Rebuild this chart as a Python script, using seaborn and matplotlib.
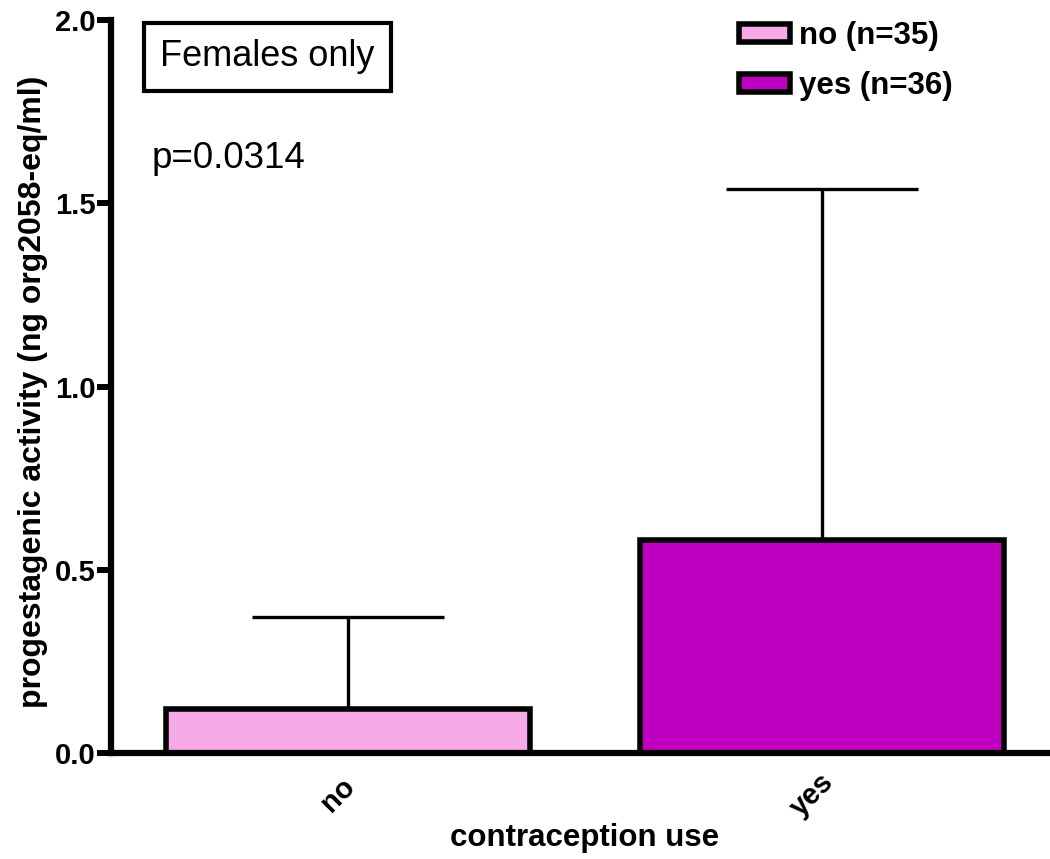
import matplotlib
matplotlib.use("Agg")
import matplotlib.pyplot as plt
import matplotlib.transforms as mtransforms
import seaborn as sns
import pandas as pd
from matplotlib.patches import Patch

categories = ["no", "yes"]
means = [0.12, 0.58]
upper_err = [0.25, 0.96]
legend_labels = ["no (n=35)", "yes (n=36)"]
colors = ["#F5A9E6", "#C000C0"]
yticks = [0.0, 0.5, 1.0, 1.5, 2.0]

sns.set_theme(style="white")
plt.rcParams["font.family"] = ["Liberation Sans", "DejaVu Sans"]
plt.rcParams["text.color"] = "black"
plt.rcParams["axes.labelcolor"] = "black"
plt.rcParams["xtick.color"] = "black"
plt.rcParams["ytick.color"] = "black"

W, H = 1050, 859
fig = plt.figure(figsize=(W/100, H/100), dpi=100)
ax = fig.add_axes([111/W, 1-753/H, 1-111/W, (753-20)/H])

df = pd.DataFrame({"cat": categories, "val": means})
sns.barplot(data=df, x="cat", y="val", hue="cat", palette=colors, width=0.768,
            saturation=1, edgecolor="black", linewidth=4, legend=False, ax=ax, zorder=2)
ax.errorbar(range(len(categories)), means, yerr=[[0]*len(means), upper_err],
            fmt="none", ecolor="black", elinewidth=2.4, capsize=69, capthick=2.4, zorder=1)

ax.set_xlim(-0.5, 1.48)
ax.set_ylim(0, 2.0)
ax.set_yticks(yticks)
ax.set_yticklabels([f"{t:.1f}" for t in yticks], fontsize=21, fontweight="bold")
ax.set_xticks(range(len(categories)))
ax.set_xticklabels(categories, fontsize=21, fontweight="bold", rotation=45,
                   ha="center", va="center", rotation_mode="anchor")
ax.tick_params(axis="y", direction="out", length=10, width=4.3, left=True, pad=1)
ax.tick_params(axis="x", length=0, pad=30)
offset = mtransforms.ScaledTranslation(-10/100, 0, fig.dpi_scale_trans)
for lab in ax.get_xticklabels():
    lab.set_transform(lab.get_transform() + offset)
for s in ["top", "right"]:
    ax.spines[s].set_visible(False)
for s in ["left", "bottom"]:
    ax.spines[s].set_linewidth(4.5)
    ax.spines[s].set_color("black")
    ax.spines[s].set_zorder(3)

ax.set_ylabel("progestagenic activity (ng org2058-eq/ml)", fontsize=23, fontweight="bold", va="center")
ax.yaxis.set_label_coords((33-111)/(W-111), (753-392)/(753-20))
ax.set_xlabel("contraception use", fontsize=22.5, fontweight="bold", va="center")
ax.xaxis.set_label_coords((585-111)/(W-111), -(838-753)/(753-20))

fig.text(267/W, 1-57/H, "Females only", ha="center", va="center", fontsize=26,
         bbox=dict(boxstyle="square,pad=0.45", facecolor="white", edgecolor="black", linewidth=3))
fig.text(152/W, 1-159/H, "p=0.0314", ha="left", va="center", fontsize=26.5)

handles = [Patch(facecolor=c, edgecolor="black", linewidth=4) for c in colors]
leg = ax.legend(handles, legend_labels, loc="upper left", bbox_to_anchor=(739/W, 1-21/H),
                bbox_transform=fig.transFigure, frameon=False, prop={"weight": "bold", "size": 22.5},
                handlelength=1.63, handleheight=0.5, handletextpad=0.3, labelspacing=0.65,
                borderpad=0, borderaxespad=0)

fig.savefig("out.png", dpi=100)
